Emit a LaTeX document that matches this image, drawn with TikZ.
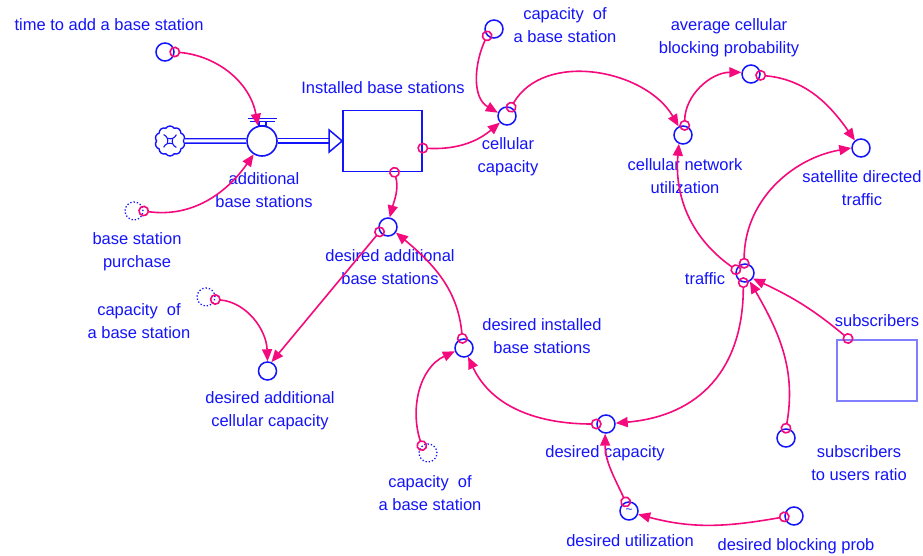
\documentclass[tikz,border=0pt]{standalone}
\usepackage{fontspec}
\setmainfont{Liberation Sans}
\usetikzlibrary{arrows.meta,shapes.symbols,calc}
\definecolor{sdblue}{RGB}{20,20,250}
\definecolor{linkpink}{RGB}{245,10,125}
\definecolor{ghostblue}{RGB}{128,128,255}

\begin{document}
\begin{tikzpicture}[x=1pt,y=1pt,
  aux/.style={circle,draw=sdblue,line width=1.5pt,minimum size=18pt,inner sep=0pt},
  shadowvar/.style={circle,draw=sdblue,dotted,line width=1.3pt,minimum size=18pt,inner sep=0pt},
  lbl/.style={text=sdblue,font=\fontsize{16.5}{23}\selectfont,align=center,inner sep=0pt},
  link/.style={draw=linkpink,line width=1.6pt,
    {Circle[open,length=11pt,width=11pt]}-{Triangle[length=12pt,width=10pt]},
    shorten <=-5.5pt},
  stockbox/.style={rectangle,draw=sdblue,line width=1.6pt,minimum width=79pt,
    minimum height=61pt,inner sep=0pt},
  pipe/.style={draw=sdblue,line width=1.3pt,double=white,double distance=3pt},
]
\path[fill=white,use as bounding box] (0,0) rectangle (923,-556);

% ---------- stock and flow: installed base stations ----------
\node[cloud,cloud puffs=10,cloud puff arc=110,aspect=1,draw=sdblue,line width=1.4pt,
      minimum size=30pt,inner sep=0pt] (src) at (170,-141) {};
\foreach \a in {45,135,225,315}
  \draw[sdblue,line width=1.1pt] ($(src.center)+(\a:9)$) to[bend left=45] ($(src.center)+(\a+85:3.5)$);
\node[circle,draw=sdblue,fill=white,line width=1.6pt,minimum size=30pt,inner sep=0pt] (valve) at (262,-141) {};
\node[stockbox] (stock) at (382.5,-141) {};
\draw[pipe] (src.east) -- (valve.west);
\draw[pipe] (valve.east) -- ([xshift=-13pt]stock.west);
\draw[sdblue,line width=1.5pt,fill=white,line join=miter]
  ([xshift=-13pt,yshift=11pt]stock.west) -- (stock.west) -- ([xshift=-13pt,yshift=-11pt]stock.west) -- cycle;
% valve handle
\draw[sdblue,line width=1.2pt] ([xshift=-14pt,yshift=6.5pt]valve.north) -- ([xshift=15pt,yshift=6.5pt]valve.north);
\draw[sdblue,line width=1.2pt] ([xshift=-12pt,yshift=4pt]valve.north) -- ([xshift=13pt,yshift=4pt]valve.north);
\draw[sdblue,line width=1.2pt] ([xshift=-3pt,yshift=4pt]valve.north) rectangle ([xshift=4pt]valve.north);

\node[lbl] (stock-l) at (383,-88) {Installed base stations};
\node[lbl] (valve-l) at (264,-190.5) {additional\\base stations};

% ---------- variables ----------
\node[aux] (tab) at (165,-52) {};
\node[lbl] (tab-l) at (109,-25) {time to add a base station};
\node[shadowvar] (bsp) at (134,-211) {};
\node[lbl] (bsp-l) at (137,-252) {base station\\purchase};
\node[aux] (capT) at (494,-29) {};
\node[lbl] (capT-l) at (565,-25.5) {capacity\ \ of\\a base station};
\node[aux] (ccap) at (507,-116) {};
\node[lbl] (ccap-l) at (508,-156.5) {cellular\\capacity};
\node[aux] (cnu) at (683,-135) {};
\node[lbl] (cnu-l) at (685,-176) {cellular network\\utilization};
\node[aux] (avg) at (751,-74) {};
\node[lbl] (avg-l) at (729,-37.5) {average cellular\\blocking probability};
\node[aux] (sdt) at (861,-148) {};
\node[lbl] (sdt-l) at (862,-188) {satellite directed\\traffic};
\node[aux] (traffic) at (745,-273) {};
\node[lbl] (traffic-l) at (705,-279) {traffic};
\node[stockbox,draw=ghostblue,line width=2pt,minimum width=80pt] (subs) at (877,-370) {};
\node[lbl] (subs-l) at (877,-321) {subscribers};
\node[aux] (sur) at (786,-438) {};
\node[lbl] (sur-l) at (859,-463.5) {subscribers\\to users ratio};
\node[aux] (dcap) at (606,-424) {};
\node[lbl] (dcap-l) at (605,-453) {desired capacity};
\node[aux,text=sdblue,font=\fontsize{12}{12}\selectfont] (dutil) at (629,-511) {\textasciitilde};
\node[lbl] (dutil-l) at (630,-541) {desired utilization};
\node[aux] (dbp) at (794,-516) {};
\node[lbl] (dbp-l) at (796,-546) {desired blocking prob};
\node[aux] (dib) at (464,-348) {};
\node[lbl] (dib-l) at (542,-336.5) {desired installed\\base stations};
\node[shadowvar] (capB) at (428,-453) {};
\node[lbl] (capB-l) at (430,-493.5) {capacity\ \ of\\a base station};
\node[aux] (dab) at (388,-227) {};
\node[lbl] (dab-l) at (390,-267) {desired additional\\base stations};
\node[shadowvar] (capL) at (206,-297) {};
\node[lbl] (capL-l) at (139,-321.5) {capacity\ \ of\\a base station};
\node[aux] (dacc) at (267.5,-371) {};
\node[lbl] (dacc-l) at (270,-411) {desired additional\\cellular capacity};

% ---------- connectors ----------
\draw[link] (tab.0) to[out=-5,in=100] (valve.105);
\draw[link] (bsp.0) to[out=-8,in=-125] (valve.-122);
\draw[link] (stock.-10) to[out=-3,in=-140] (ccap.-137);
\draw[link] (capT.-135) to[out=-115,in=150] (ccap.160);
\draw[link] (ccap.65) to[out=60,in=120] (cnu.117);
\draw[link] (cnu.80) to[out=90,in=180] (avg.170);
\draw[link] (avg.-8) to[out=-5,in=125] (sdt.129);
\draw[link] (traffic.95) to[out=90,in=190] (sdt.180);
\draw[link] (traffic.160) to[out=145,in=-95] (cnu.-115);
\draw[link] ([xshift=12pt]subs.north west) to[out=140,in=-25] (traffic.-35);
\draw[link] (sur.90) to[out=80,in=-60] (traffic.-60);
\draw[link] (traffic.-100) to[out=-90,in=5,looseness=1.15] (dcap.5);
\draw[link] (dcap.180) to[out=180,in=-65] (dib.-65);
\draw[link] (capB.130) to[out=108,in=205] (dib.200);
\draw[link] (dib.100) to[out=95,in=-40] (dab.-35);
\draw[link] ([xshift=12pt]stock.south) to[out=-75,in=75] (dab.80);
\draw[link] (dab.-150) -- (dacc.66);
\draw[link] (capL.-15) to[out=-5,in=92] (dacc.90);
\draw[link] (dutil.110) to[out=115,in=-90] (dcap.-95);
\draw[link] (dbp.185) to[out=190,in=-15] (dutil.-20);
\end{tikzpicture}
\end{document}
